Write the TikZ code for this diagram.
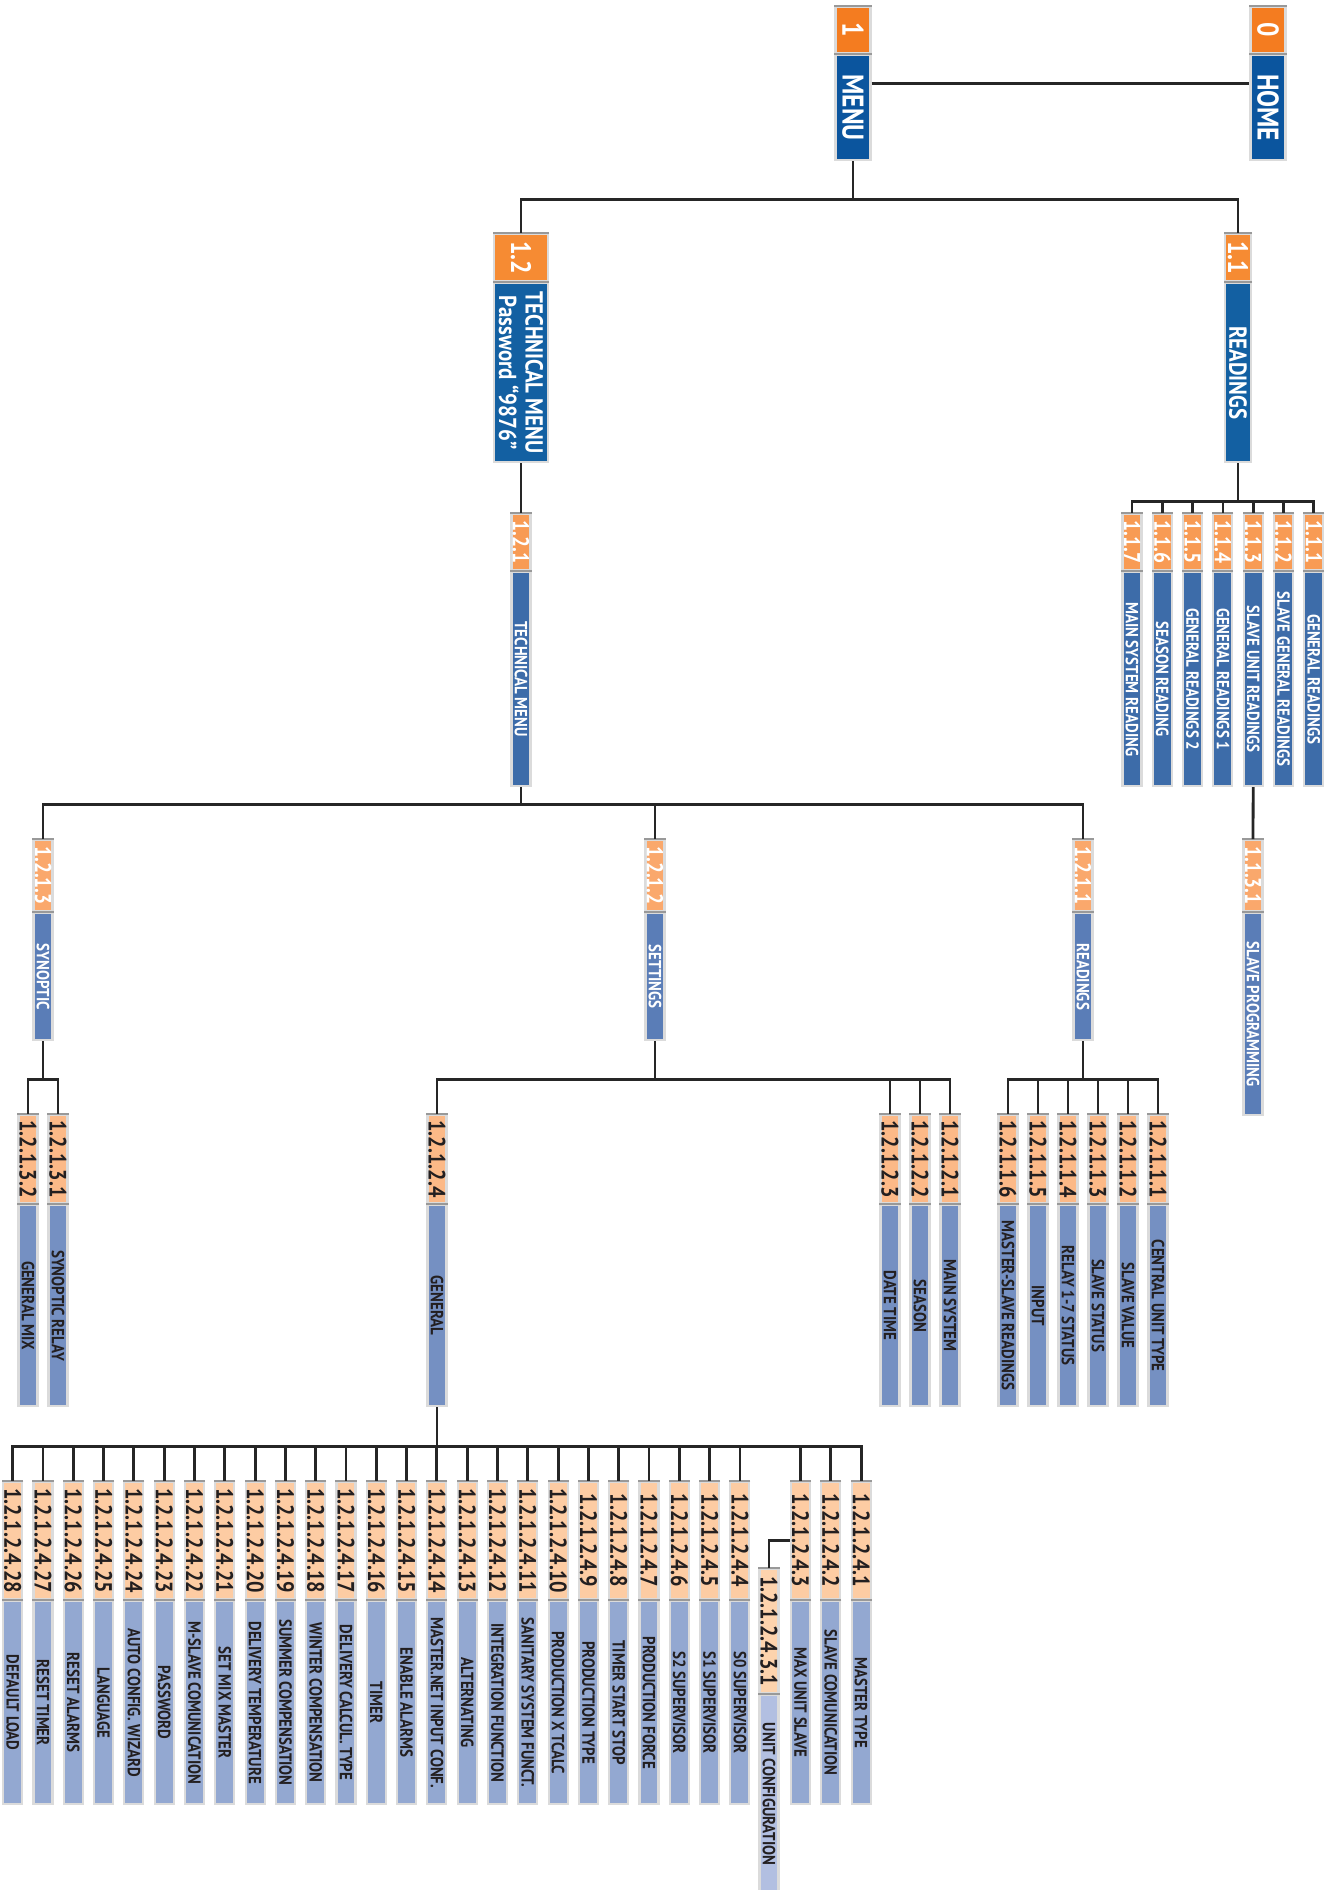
\documentclass[tikz,border=0pt]{standalone}
\usepackage{fontspec}
\setmainfont{PT Sans}[FakeStretch=0.85]

\definecolor{orA}{HTML}{F47C20}
\definecolor{blA}{HTML}{0B559E}
\definecolor{orB}{HTML}{F68B33}
\definecolor{blB}{HTML}{1360A2}
\definecolor{orC}{HTML}{F89B54}
\definecolor{blC}{HTML}{3D6CA9}
\definecolor{orD}{HTML}{FAA86C}
\definecolor{blD}{HTML}{5A7DB7}
\definecolor{orE}{HTML}{FCB987}
\definecolor{blE}{HTML}{7590C2}
\definecolor{orF}{HTML}{FDCCA3}
\definecolor{blF}{HTML}{93A8D1}
\definecolor{orG}{HTML}{FDD3AD}
\definecolor{blG}{HTML}{B2BFE1}
\definecolor{ink}{HTML}{231F20}

\tikzset{
	bar/.style={rotate=-90, anchor=west, inner sep=0pt, align=center,
		draw=black!14, line width=1.2pt, minimum height=0.38cm,
		append after command={(\tikzlastnode.north west) edge[black!40, line width=1.2pt] (\tikzlastnode.south west)}},
	numA/.style={bar, fill=orA, text=white, minimum height=0.70cm, minimum width=0.92cm, font=\bfseries\fontsize{17}{17}\selectfont},
	txtA/.style={bar, fill=blA, text=white, minimum height=0.70cm, minimum width=2.10cm, font=\bfseries\fontsize{17}{17}\selectfont},
	numB/.style={bar, fill=orB, text=white, minimum width=0.94cm, font=\bfseries\fontsize{16}{16}\selectfont},
	txtB/.style={bar, fill=blB, text=white, minimum width=3.58cm, font=\bfseries\fontsize{14}{15}\selectfont},
	numC/.style={bar, fill=orC, text=white, minimum width=1.12cm, font=\bfseries\fontsize{13}{13}\selectfont},
	txtC/.style={bar, fill=blC, text=white, minimum width=4.28cm, font=\bfseries\fontsize{10}{10}\selectfont},
	numD/.style={bar, fill=orD, text=white, minimum width=1.42cm, font=\bfseries\fontsize{13}{13}\selectfont},
	txtD/.style={bar, fill=blD, text=white, minimum width=2.54cm, font=\bfseries\fontsize{10}{10}\selectfont},
	numE/.style={bar, fill=orE, text=ink, minimum width=1.76cm, font=\bfseries\fontsize{13.5}{13.5}\selectfont},
	txtE/.style={bar, fill=blE, text=ink, minimum width=4.02cm, font=\bfseries\fontsize{10}{10}\selectfont},
	numF/.style={bar, fill=orF, text=ink, minimum width=2.34cm, font=\bfseries\fontsize{13.5}{13.5}\selectfont},
	txtF/.style={bar, fill=blF, text=ink, minimum width=4.06cm, font=\bfseries\fontsize{10}{10}\selectfont},
	numG/.style={bar, fill=orG, text=ink, minimum width=2.48cm, font=\bfseries\fontsize{13.5}{13.5}\selectfont},
	txtG/.style={bar, fill=blG, text=ink, minimum width=3.96cm, font=\bfseries\fontsize{10}{10}\selectfont},
	wire/.style={line width=1.6pt, draw=black!85},
}

\begin{document}
\begin{tikzpicture}[x=0.02cm, y=-0.02cm]
	\useasboundingbox (0,0) rectangle (1335,1890);

	\node[numA] (n0) at (1268,6) {0};
	\node[txtA] (t0) at (n0.east) {HOME};
	\node[numA] (n1) at (853,6) {1};
	\node[txtA] (t1) at (n1.east) {MENU};
	\path (t1.north west) ++(0,29) coordinate (c1);
	\draw[wire] (c1) -- (c1 -| t0.south);

	\node[numB, minimum height=1.08cm] (n12) at (521,233) {1.2};
	\node[txtB, minimum height=1.08cm] (t12) at (n12.east) {TECHNICAL MENU\\Password “9876”};
	\node[numB, minimum height=0.52cm] (n11) at (1238,233) {1.1};
	\node[txtB, minimum height=0.52cm] (t11) at (n11.east) {READINGS};
	\path (t1.east) ++(0,38) coordinate (b1);
	\draw[wire] (t1.east) -- (b1) -| (n11.west) (b1) -| (n12.west);

	\node[numC] (n121) at (521,513) {1.2.1};
	\node[txtC] (t121) at (n121.east) {TECHNICAL MENU};
	\draw[wire] (t12.east) -- (n121.west);

	\path (t11.east) ++(0,38) coordinate (b11);
	\draw[wire] (t11.east) -- (b11);
	\foreach \k/\lab in {1/GENERAL READINGS, 2/SLAVE GENERAL READINGS, 3/SLAVE UNIT READINGS,
		4/GENERAL READINGS 1, 5/GENERAL READINGS 2, 6/SEASON READING, 7/MAIN SYSTEM READING}{
		\pgfmathsetmacro\xx{1132+(7-\k)*30.3}
		\node[numC] (n11\k) at (\xx,513) {1.1.\k};
		\node[txtC] (t11\k) at (n11\k.east) {\lab};
		\draw[wire] (b11) -| (n11\k.west);
	}

	\node[numD] (n1131) at (1253,839) {1.1.3.1};
	\node[txtD, minimum width=4.04cm] (t1131) at (n1131.east) {SLAVE PROGRAMMING};
	\draw[wire] (t113.east) -- (n1131.west);

	\node[numD] (n1211) at (1083,839) {1.2.1.1};
	\node[txtD] (t1211) at (n1211.east) {READINGS};
	\node[numD] (n1212) at (655,839) {1.2.1.2};
	\node[txtD] (t1212) at (n1212.east) {SETTINGS};
	\node[numD] (n1213) at (43,839) {1.2.1.3};
	\node[txtD] (t1213) at (n1213.east) {SYNOPTIC};
	\path (t121.east) ++(0,17) coordinate (b121);
	\draw[wire] (t121.east) -- (b121) -| (n1211.west) (b121) -| (n1212.west) (b121) -| (n1213.west);

	\path (t1211.east) ++(0,38) coordinate (b1211);
	\draw[wire] (t1211.east) -- (b1211);
	\foreach \k/\lab in {1/CENTRAL UNIT TYPE, 2/SLAVE VALUE, 3/SLAVE STATUS, 4/RELAY 1-7 STATUS,
		5/INPUT, 6/MASTER-SLAVE READINGS}{
		\pgfmathsetmacro\xx{1158-(\k-1)*30}
		\node[numE] (n1211\k) at (\xx,1114) {1.2.1.1.\k};
		\node[txtE] (t1211\k) at (n1211\k.east) {\lab};
		\draw[wire] (b1211) -| (n1211\k.west);
	}

	\path (t1212.east) ++(0,38) coordinate (b1212);
	\draw[wire] (t1212.east) -- (b1212);
	\foreach \k/\xx/\lab in {1/950/MAIN SYSTEM, 2/920/SEASON, 3/890/DATE TIME, 4/437/GENERAL}{
		\node[numE] (n1212\k) at (\xx,1114) {1.2.1.2.\k};
		\node[txtE] (t1212\k) at (n1212\k.east) {\lab};
		\draw[wire] (b1212) -| (n1212\k.west);
	}

	\path (t1213.east) ++(0,38) coordinate (b1213);
	\draw[wire] (t1213.east) -- (b1213);
	\foreach \k/\xx/\lab in {1/58/SYNOPTIC RELAY, 2/28/GENERAL MIX}{
		\node[numE] (n1213\k) at (\xx,1114) {1.2.1.3.\k};
		\node[txtE] (t1213\k) at (n1213\k.east) {\lab};
		\draw[wire] (b1213) -| (n1213\k.west);
	}

	\path (t12124.east) ++(0,39) coordinate (b5);
	\draw[wire] (t12124.east) -- (b5);
	\foreach \k/\lab in {1/MASTER TYPE, 2/SLAVE COMUNICATION, 3/MAX UNIT SLAVE, 4/S0 SUPERVISOR,
		5/S1 SUPERVISOR, 6/S2 SUPERVISOR, 7/PRODUCTION FORCE, 8/TIMER START STOP,
		9/PRODUCTION TYPE, 10/PRODUCTION X TCALC, 11/SANITARY SYSTEM FUNCT., 12/INTEGRATION FUNCTION,
		13/ALTERNATING, 14/MASTER.NET INPUT CONF., 15/ENABLE ALARMS, 16/TIMER,
		17/DELIVERY CALCUL. TYPE, 18/WINTER COMPENSATION, 19/SUMMER COMPENSATION, 20/DELIVERY TEMPERATURE,
		21/SET MIX MASTER, 22/M-SLAVE COMUNICATION, 23/PASSWORD, 24/AUTO CONFIG. WIZARD,
		25/LANGUAGE, 26/RESET ALARMS, 27/RESET TIMER, 28/DEFAULT LOAD}{
		\pgfmathsetmacro\xx{12.7+(28-\k+(\k<4))*30.3}
		\node[numF] (n5-\k) at (\xx,1481) {1.2.1.2.4.\k};
		\node[txtF] (t5-\k) at (n5-\k.east) {\lab};
		\draw[wire] (b5) -| (n5-\k.west);
	}

	\node[numG] (n6) at (769,1568) {1.2.1.2.4.3.1};
	\node[txtG] (t6) at (n6.east) {UNIT CONFIGURATION};
	\draw[wire] (n5-3.south) -| (n6.west);
\end{tikzpicture}
\end{document}
